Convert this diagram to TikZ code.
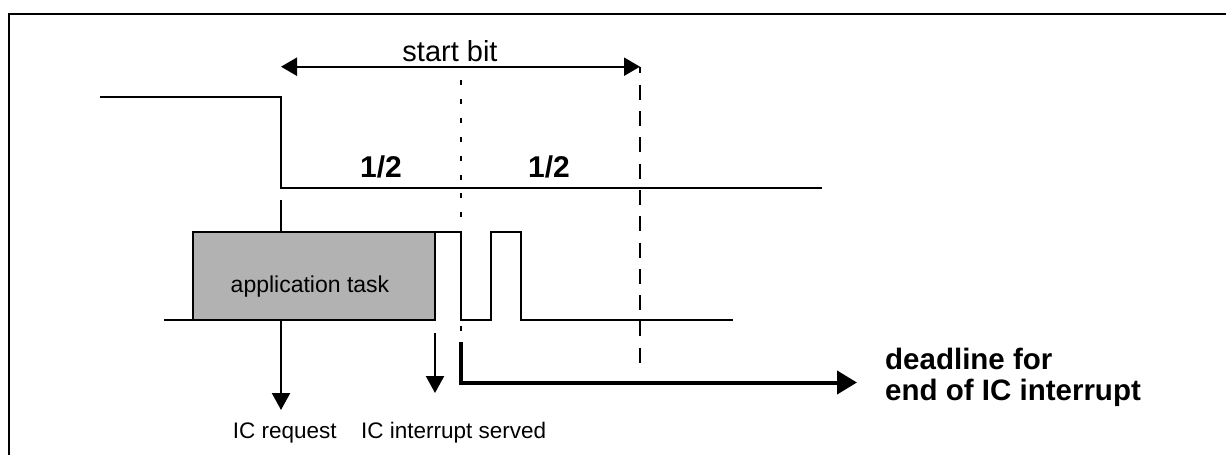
\documentclass[tikz,border=0pt]{standalone}
\usepackage{fontspec}
\setmainfont{Liberation Sans}
\usetikzlibrary{arrows.meta}
\begin{document}
\begin{tikzpicture}[x=1pt,y=-1pt,line join=miter,
  sig/.style={line width=2.3pt},
  lbl/.style={inner sep=0pt,anchor=base},
  fs/.style={font=\fontsize{#1}{#1}\selectfont}]
\useasboundingbox (0,0) rectangle (1226,455);
% frame
\draw[line width=2.8pt] (9,460) -- (9,14) -- (1230,14);
% start bit arrow
\coordinate (sbL) at (281,66.7);
\coordinate (sbR) at (640,66.7);
\draw[sig,{Triangle[length=16pt,width=18pt]}-{Triangle[length=16pt,width=18pt]}] (sbL) -- (sbR);
\node[lbl,fs=29] (sb) at (450,61.7) {start bit};
% dotted and dashed markers
\draw[sig,dash pattern=on 5pt off 13.9pt] (461,80) -- (461,336);
\draw[sig,dash pattern=on 15pt off 11.3pt,dash phase=8.3pt] (sbR) -- (640,363);
% top signal
\draw[sig] (100,97) -- (281,97) -- (281,188) -- (822,188);
\node[lbl,font=\bfseries\fontsize{30}{30}\selectfont] (h1) at (381,177) {1/2};
\node[lbl,font=\bfseries\fontsize{30}{30}\selectfont] (h2) at (549,177) {1/2};
% IC request arrow (behind box)
\draw[sig] (281,200) -- (281,240);
\draw[sig,-{Triangle[length=17pt,width=18pt]}] (281,310) -- (281,410);
% lower signal
\draw[sig] (164,320) -- (193,320);
\node[draw,line width=2.3pt,fill=black!30,minimum width=242pt,minimum height=88pt,inner sep=0pt] (task) at (314,276) {};
\node[lbl,fs=23] at (310,292) {application task};
\draw[sig] (435,232) -- (461,232) -- (461,320) -- (491,320) -- (491,232) -- (521,232) -- (521,320) -- (733,320);
% IC interrupt served arrow
\draw[sig,-{Triangle[length=17pt,width=18pt]}] (435,333) -- (435,393);
% deadline arrow
\draw[line width=4pt,-{Triangle[length=20pt,width=23pt]}] (461,342) -- (461,382.5) -- (857,382.5);
\node[lbl,anchor=base west,font=\bfseries\fontsize{29.5}{29.5}\selectfont] (d1) at (885,369.3) {deadline for};
\node[lbl,anchor=base west,font=\bfseries\fontsize{29.5}{29.5}\selectfont] (d2) at (885,400.7) {end of IC interrupt};
% bottom labels
\node[lbl,anchor=base west,fs=22.5] (r1) at (232.7,438) {IC request};
\node[lbl,anchor=base west,fs=22.5] (r2) at (361,438) {IC interrupt served};
\end{tikzpicture}
\end{document}
